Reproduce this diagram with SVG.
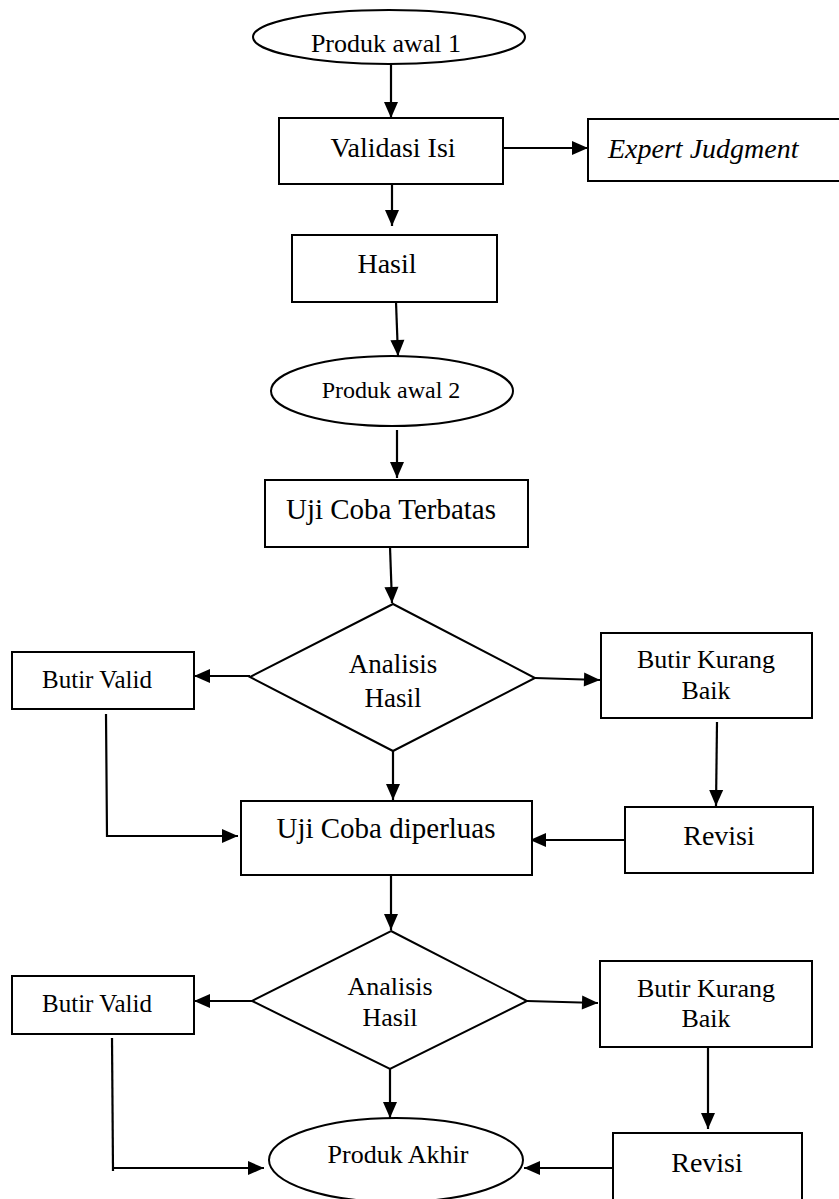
<svg xmlns="http://www.w3.org/2000/svg" width="839" height="1199" viewBox="0 0 839 1199">
<style>
.s{fill:#fff;stroke:#000;stroke-width:2}
.t{font-family:"Liberation Serif","Times New Roman",serif;fill:#000;text-anchor:middle}
.c{fill:none;stroke:#000;stroke-width:2.2}
</style>
<defs>
<marker id="ah" markerUnits="userSpaceOnUse" markerWidth="20" markerHeight="20" viewBox="0 0 20 20" refX="17" refY="10" orient="auto">
<path d="M1,3 L17,10 L1,17 Z" fill="#000"/>
</marker>
</defs>
<rect width="839" height="1199" fill="#fff"/>
<g id="connectors">
<path class="c" d="M391,64 L391,118" marker-end="url(#ah)"/>
<path class="c" d="M503,148 L588,148" marker-end="url(#ah)"/>
<path class="c" d="M392,182 L392,226" marker-end="url(#ah)"/>
<path class="c" d="M396,302 L398,356" marker-end="url(#ah)"/>
<path class="c" d="M397,430 L397,478" marker-end="url(#ah)"/>
<path class="c" d="M390,547 L392,603" marker-end="url(#ah)"/>
<path class="c" d="M250,676 L194,676" marker-end="url(#ah)"/>
<path class="c" d="M535,678 L600,680" marker-end="url(#ah)"/>
<path class="c" d="M393,751 L393,800" marker-end="url(#ah)"/>
<path class="c" d="M106,714 L107,836 L238,836" marker-end="url(#ah)"/>
<path class="c" d="M717,722 L716,806" marker-end="url(#ah)"/>
<path class="c" d="M625,840 L530,840" marker-end="url(#ah)"/>
<path class="c" d="M391,875 L391,930" marker-end="url(#ah)"/>
<path class="c" d="M252,1001 L194,1001" marker-end="url(#ah)"/>
<path class="c" d="M527,1001 L598,1003" marker-end="url(#ah)"/>
<path class="c" d="M390,1069 L390,1118" marker-end="url(#ah)"/>
<path class="c" d="M112,1038 L113,1171"/>
<path class="c" d="M114,1168 L264,1168" marker-end="url(#ah)"/>
<path class="c" d="M708,1047 L708,1129" marker-end="url(#ah)"/>
<path class="c" d="M613,1168 L524,1168" marker-end="url(#ah)"/>
</g>
<g font-family="Liberation Serif, serif">
<g id="produk-awal-1"><ellipse class="s" cx="389" cy="37" rx="136" ry="27"/><text class="t" x="386" y="52" font-size="26">Produk awal 1</text></g>
<g id="validasi-isi"><rect class="s" x="279" y="118" width="224" height="66"/><text class="t" x="393" y="157" font-size="28">Validasi Isi</text></g>
<g id="expert-judgment"><rect class="s" x="588" y="119" width="262" height="62"/><text class="t" x="608" y="158" font-size="28" font-style="italic" style="text-anchor:start">Expert Judgment</text></g>
<g id="hasil"><rect class="s" x="292" y="235" width="205" height="67"/><text class="t" x="387" y="273" font-size="28">Hasil</text></g>
<g id="produk-awal-2"><ellipse class="s" cx="392" cy="391" rx="121" ry="35"/><text class="t" x="391" y="398" font-size="24">Produk awal 2</text></g>
<g id="uji-coba-terbatas"><rect class="s" x="265" y="480" width="263" height="67"/><text class="t" x="391" y="519" font-size="29">Uji Coba Terbatas</text></g>
<g id="analisis-hasil-1"><polygon class="s" points="393,604 535,678 393,751 250,677"/><text class="t" x="393" y="673" font-size="27">Analisis</text><text class="t" x="393" y="707" font-size="27">Hasil</text></g>
<g id="butir-valid-1"><rect class="s" x="12" y="652" width="182" height="57"/><text class="t" x="97" y="688" font-size="25">Butir Valid</text></g>
<g id="butir-kurang-baik-1"><rect class="s" x="601" y="633" width="211" height="85"/><text class="t" x="706" y="668" font-size="26">Butir Kurang</text><text class="t" x="706" y="699" font-size="26">Baik</text></g>
<g id="uji-coba-diperluas"><rect class="s" x="241" y="801" width="291" height="74"/><text class="t" x="386" y="838" font-size="29">Uji Coba diperluas</text></g>
<g id="revisi-1"><rect class="s" x="625" y="807" width="188" height="66"/><text class="t" x="719" y="845" font-size="28">Revisi</text></g>
<g id="analisis-hasil-2"><polygon class="s" points="391,931 527,1001 390,1069 252,1001"/><text class="t" x="390" y="995" font-size="26">Analisis</text><text class="t" x="390" y="1026" font-size="26">Hasil</text></g>
<g id="butir-valid-2"><rect class="s" x="12" y="976" width="182" height="58"/><text class="t" x="97" y="1012" font-size="25">Butir Valid</text></g>
<g id="butir-kurang-baik-2"><rect class="s" x="600" y="961" width="212" height="86"/><text class="t" x="706" y="997" font-size="26">Butir Kurang</text><text class="t" x="706" y="1027" font-size="26">Baik</text></g>
<g id="produk-akhir"><ellipse class="s" cx="396" cy="1160" rx="127" ry="42"/><text class="t" x="398" y="1163" font-size="26">Produk Akhir</text></g>
<g id="revisi-2"><rect class="s" x="613" y="1133" width="189" height="80"/><text class="t" x="707" y="1172" font-size="28">Revisi</text></g>
</g>
</svg>
